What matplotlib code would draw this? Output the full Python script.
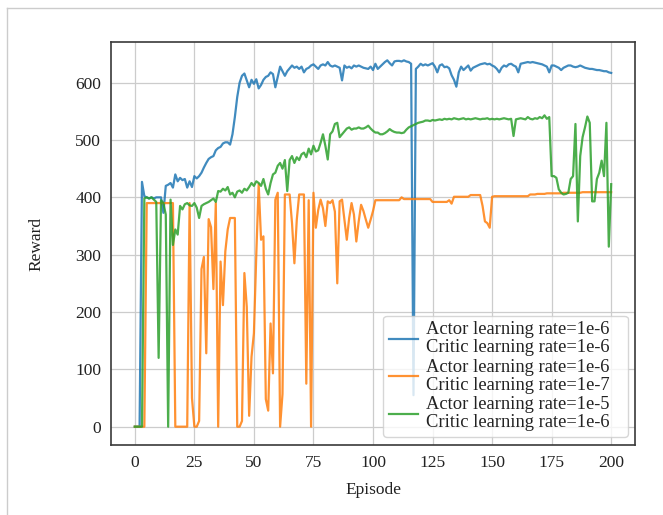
import matplotlib
matplotlib.use("Agg")
import matplotlib.pyplot as plt
from matplotlib.lines import Line2D

episodes = list(range(201))

blue_reward = [
    0, 0, 0, 427, 402, 400, 398, 400, 398, 400,
    400, 400, 373, 420, 422, 425, 417, 440, 428, 434,
    430, 432, 417, 428, 418, 437, 433, 437, 443, 452,
    460, 467, 470, 472, 482, 486, 488, 494, 496, 496,
    492, 510, 540, 575, 600, 612, 616, 604, 592, 605,
    598, 606, 590, 596, 605, 610, 612, 618, 615, 592,
    610, 628, 620, 612, 620, 625, 630, 626, 628, 624,
    628, 618, 624, 626, 630, 632, 628, 624, 630, 632,
    630, 636, 630, 628, 630, 628, 626, 604, 630, 626,
    628, 625, 630, 628, 630, 628, 626, 625, 624, 628,
    622, 633, 624, 628, 632, 636, 639, 634, 630, 637,
    638, 638, 637, 639, 637, 636, 633, 55, 624, 628,
    633, 630, 632, 630, 632, 634, 628, 618, 630, 632,
    627, 628, 625, 613, 605, 593, 618, 628, 622, 626,
    630, 621, 626, 628, 630, 632, 633, 634, 632, 633,
    630, 628, 624, 618, 626, 630, 628, 632, 633, 630,
    628, 618, 633, 634, 635, 636, 635, 636, 635, 634,
    633, 632, 630, 628, 618, 630, 630, 628, 626, 622,
    626, 628, 630, 630, 628, 627, 628, 630, 628, 626,
    625, 624, 624, 623, 622, 622, 621, 620, 620, 618,
    617,
]

orange_reward = [
    0, 0, 0, 0, 0, 390, 390, 390, 390, 390,
    390, 390, 390, 390, 390, 390, 390, 0, 0, 0,
    0, 0, 0, 390, 50, 0, 0, 10, 275, 296,
    128, 362, 348, 240, 390, 0, 288, 212, 306, 344,
    364, 364, 364, 0, 0, 10, 268, 209, 19, 122,
    163, 300, 423, 326, 332, 48, 28, 180, 93, 396,
    408, 0, 57, 405, 405, 405, 355, 285, 361, 405,
    405, 405, 75, 395, 0, 408, 347, 378, 396, 381,
    350, 393, 390, 395, 375, 250, 393, 396, 361, 326,
    364, 390, 370, 323, 358, 387, 376, 361, 347, 361,
    376, 395, 395, 395, 395, 395, 395, 395, 395, 395,
    395, 395, 400, 397, 397, 397, 397, 397, 397, 397,
    397, 397, 397, 397, 397, 392, 392, 392, 392, 392,
    392, 392, 395, 389, 401, 401, 401, 401, 401, 401,
    401, 404, 404, 404, 404, 404, 385, 358, 355, 347,
    401, 402, 402, 402, 402, 402, 402, 402, 402, 402,
    402, 402, 402, 402, 402, 402, 405, 405, 405, 406,
    406, 406, 406, 407, 407, 407, 407, 407, 407, 407,
    408, 408, 408, 408, 408, 408, 408, 408, 409, 409,
    409, 409, 409, 409, 409, 409, 409, 409, 409, 409,
    409,
]

green_reward = [
    0, 0, 0, 0, 398, 400, 398, 400, 396, 392,
    120, 395, 390, 370, 0, 396, 317, 344, 335, 385,
    379, 388, 390, 386, 385, 390, 382, 364, 385, 388,
    390, 392, 395, 398, 392, 411, 410, 415, 412, 418,
    405, 408, 400, 410, 412, 408, 415, 412, 418, 425,
    420, 428, 425, 420, 432, 415, 405, 425, 440, 443,
    455, 460, 450, 465, 411, 465, 472, 460, 470, 465,
    475, 478, 470, 485, 475, 490, 480, 482, 495, 510,
    490, 466, 510, 515, 528, 530, 505, 510, 515, 520,
    522, 518, 520, 520, 522, 520, 520, 522, 525, 520,
    516, 513, 513, 510, 510, 512, 515, 519, 516, 514,
    513, 513, 512, 513, 518, 522, 524, 526, 528, 530,
    531, 532, 534, 534, 533, 535, 534, 535, 536, 535,
    537, 536, 537, 536, 538, 537, 536, 537, 538, 536,
    537, 536, 537, 538, 537, 536, 537, 537, 538, 536,
    537, 536, 537, 536, 537, 538, 537, 536, 537, 507,
    536, 537, 538, 537, 536, 540, 537, 536, 538, 537,
    540, 538, 543, 537, 540, 437, 437, 434, 414, 408,
    405, 406, 408, 432, 437, 528, 358, 472, 505, 522,
    541, 530, 393, 393, 432, 443, 464, 437, 530, 314,
    423,
]

labels = [
    "Actor learning rate=1e-6\nCritic learning rate=1e-6",
    "Actor learning rate=1e-6\nCritic learning rate=1e-7",
    "Actor learning rate=1e-5\nCritic learning rate=1e-6",
]
x_ticks = [0, 25, 50, 75, 100, 125, 150, 175, 200]
y_ticks = [0, 100, 200, 300, 400, 500, 600]

plt.rcParams['font.family'] = ['Liberation Serif', 'DejaVu Serif']

fig = plt.figure(figsize=(6.63, 5.15), dpi=100)
ax_l, ax_r, ax_t, ax_b = 111, 635, 42, 445
ax = fig.add_axes([ax_l/663, 1-ax_b/515, (ax_r-ax_l)/663, (ax_b-ax_t)/515])

colors = ['#1f77b4', '#ff7f0e', '#2ca02c']
for ys, c, lab in zip([blue_reward, orange_reward, green_reward], colors, labels):
    ax.plot(episodes, ys, color=c, lw=1.6, alpha=0.85, label=lab)

ax.set_xticks(x_ticks)
ax.set_yticks(y_ticks)
ax.margins(x=0.05, y=0.05)
ax.grid(True, color='#cccccc', lw=0.9)
ax.set_axisbelow(True)
for s in ax.spines.values():
    s.set_color('#3a3a3a')
    s.set_linewidth(1.2)
ax.tick_params(length=0, labelsize=12.5, pad=7, colors='#222222')
ax.set_xlabel("Episode", fontsize=12.5, labelpad=8, color='#222222')
ax.set_ylabel("Reward", fontsize=12.5, labelpad=22, color='#222222')

# legend box spans x 383..628 px, bottom at 437 px
lx0 = (383 - ax_l) / (ax_r - ax_l)
lw_ = (628 - 383) / (ax_r - ax_l)
ly0 = (ax_b - 437) / (ax_b - ax_t)
leg = ax.legend(loc='lower left', bbox_to_anchor=(lx0, ly0, lw_, 0.2), mode='expand',
                fontsize=13.3, framealpha=0.8, edgecolor='#cccccc',
                labelspacing=0.12, handlelength=1.6, handletextpad=0.45,
                borderpad=0.3, borderaxespad=0.0)
for t in leg.get_texts():
    t.set_linespacing(1.1)
    t.set_color('#222222')

fig.add_artist(Line2D([7/663, 1], [1-8/515, 1-8/515], color='#cccccc', lw=1.0))
fig.add_artist(Line2D([7/663, 7/663], [0, 1-8/515], color='#cccccc', lw=1.0))

fig.savefig("out.png", dpi=100, facecolor='white')
